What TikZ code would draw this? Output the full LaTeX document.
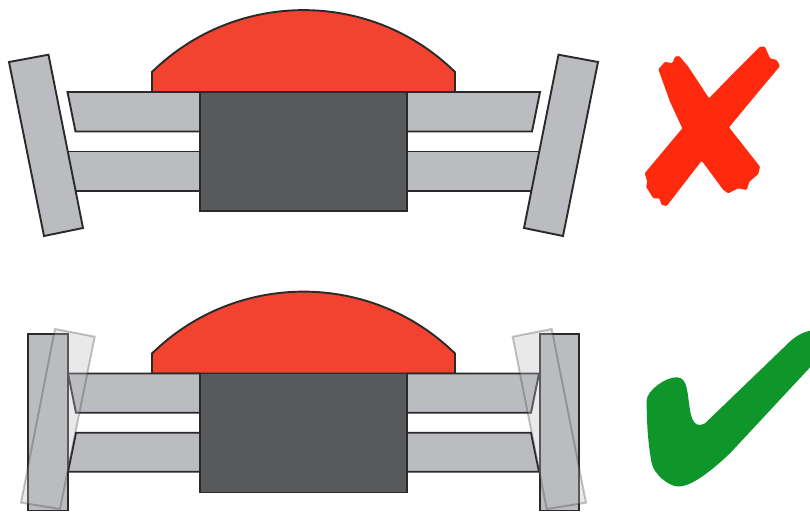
\documentclass[tikz,border=0pt]{standalone}
\definecolor{domered}{HTML}{F1432F}
\definecolor{blockgrey}{HTML}{58595B}
\definecolor{partgrey}{HTML}{BBBCC0}
\definecolor{inkline}{HTML}{2B2A2B}
\definecolor{crossred}{HTML}{FF2A0E}
\definecolor{tickgreen}{HTML}{0F962B}
\tikzset{
  part/.style={draw=inkline,line width=1.9pt,line join=miter},
  dome/.style={part,fill=domered},
  block/.style={part,fill=blockgrey},
  beam/.style={part,fill=partgrey},
  plate/.style={part,fill=partgrey},
  ghost/.style={draw=inkline,draw opacity=0.28,fill=partgrey,fill opacity=0.32,line width=1.9pt},
}
\newcommand{\domeshape}{
  \draw[dome] (152,92) -- (152,72) .. controls (236,-10.5) and (371,-10.5) .. (455,72) -- (455,92) -- cycle;
}
\begin{document}
\begin{tikzpicture}[x=1pt,y=-1pt]
\useasboundingbox (0,0) rectangle (810,511);
\clip (0,0) rectangle (810,511);
\fill[white] (0,0) rectangle (810,511);
% top assembly (wrong)
\domeshape
\draw[beam] (67.5,92) -- (200,92) -- (200,131.5) -- (75.5,131.5) -- cycle;
\draw[beam] (60,151.5) -- (200,151.5) -- (200,191) -- (60,191) -- cycle;
\draw[beam] (407,92) -- (540,92) -- (532,131.5) -- (407,131.5) -- cycle;
\draw[beam] (407,151.5) -- (550,151.5) -- (550,191) -- (407,191) -- cycle;
\draw[block] (200,92) rectangle (407,211);
\draw[plate] (9,62) -- (48.5,54.7) -- (83,228) -- (44,236) -- cycle;
\draw[plate] (598,62) -- (558.5,54.7) -- (524,228) -- (563,236) -- cycle;
% bottom assembly (right)
\begin{scope}[shift={(0,281.5)}]
\domeshape
\draw[beam] (68,92) -- (200,92) -- (200,131.2) -- (76,131.2) -- cycle;
\draw[beam] (76,151.2) -- (200,151.2) -- (200,190.2) -- (68,190.2) -- cycle;
\draw[beam] (539,92) -- (407,92) -- (407,131.2) -- (531,131.2) -- cycle;
\draw[beam] (531,151.2) -- (407,151.2) -- (407,190.2) -- (539,190.2) -- cycle;
\draw[block] (200,92) rectangle (407,211);
\end{scope}
\draw[plate] (28,334) rectangle (68,510.5);
\draw[plate] (540,334) rectangle (579,510.5);
\draw[ghost] (55,329) -- (94.7,336.7) -- (60,509) -- (21,502.7) -- cycle;
\draw[ghost] (551.7,329) -- (512.7,336.7) -- (546.7,509) -- (586,502.7) -- cycle;
% cross
\fill[crossred,rounded corners=1pt] (658.3,69.3) -- (665,61.7) -- (667.3,62.3) -- (672.3,63.3) -- (675,56.7) -- (679.3,56) -- (688.3,66.7) -- (709,98.3) -- (730,76.7) -- (760,46.7) -- (765,46.7) -- (770,58.3) -- (776.7,60) -- (780,66) -- (753.3,98) -- (729,127.3) -- (760,166.7) -- (758.3,174) -- (749.3,181.7) -- (746.7,190) -- (738.3,188.3) -- (728.3,193.3) -- (723.3,190) -- (701.7,160.7) -- (666.7,206) -- (661.7,205) -- (659.3,198.3) -- (653.3,198.3) -- (646,186.7) -- (647.3,181.7) -- (644.7,173.3) -- (682.3,128.3) -- (670,101.7) -- cycle;
% tick
\fill[tickgreen] (646.7,400) .. controls (647,391) and (665,377) .. (677,377.3)
 .. controls (688,378) and (687,392) .. (690,410)
 .. controls (692,422) and (696,428) .. (705,423.3)
 -- (790,341.5)
 .. controls (797,335) and (805,331) .. (815,330) -- (815,362)
 -- (730,453.3)
 .. controls (705,477) and (688,487) .. (678,486.5)
 .. controls (668,486) and (654,474) .. (651.7,463.3)
 .. controls (648,445) and (646.5,420) .. (646.7,400) -- cycle;
\end{tikzpicture}
\end{document}
